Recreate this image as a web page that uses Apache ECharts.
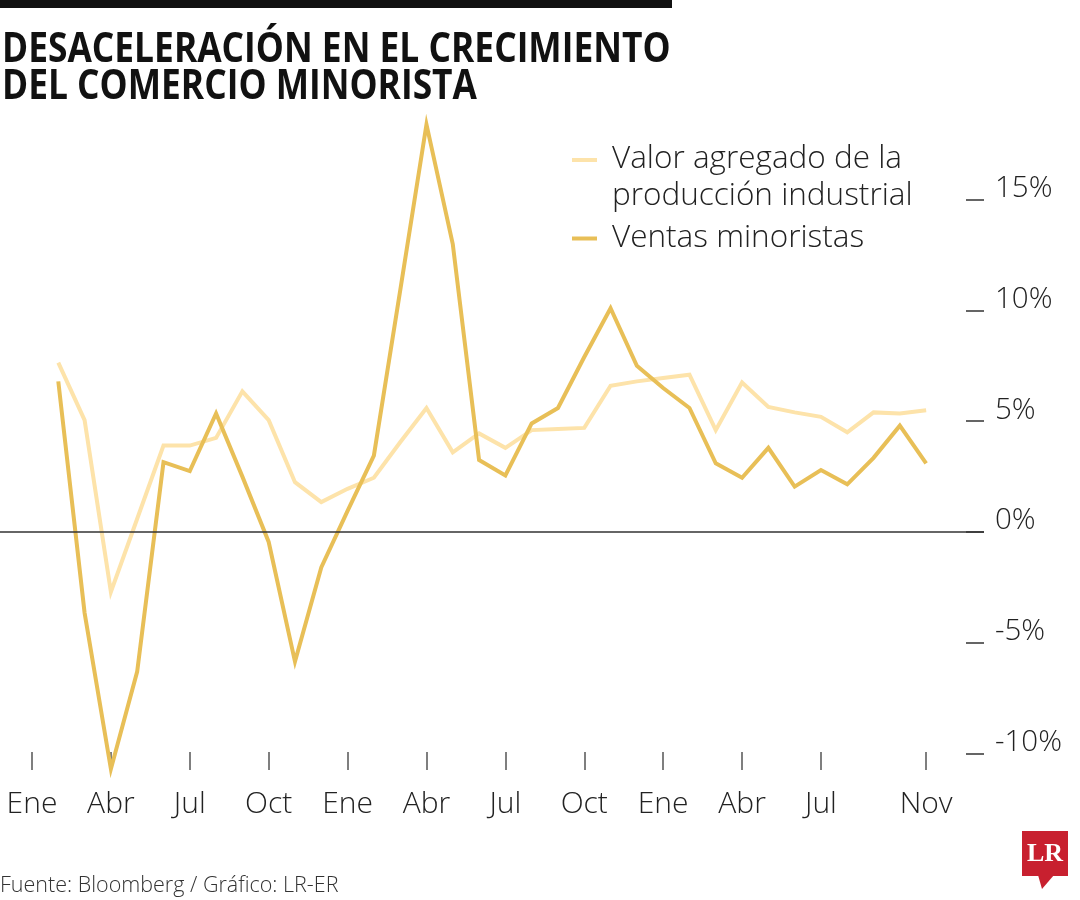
<!DOCTYPE html>
<html>
<head>
<meta charset="utf-8">
<script src="https://cdn.jsdelivr.net/npm/echarts@6/dist/echarts.min.js"></script>
<style>
  html, body { margin: 0; padding: 0; background: #fff; }
  #chart { width: 1080px; height: 900px; }
</style>
</head>
<body>
<div id="chart"></div>
<script>
// Months counted from Jan of year 1 (0) to Nov of year 3 (34); data starts in Feb (1)
const firstMonth = 1;
const tickMonths = [0, 3, 6, 9, 12, 15, 18, 21, 24, 27, 30, 34];
const tickLabels = ['Ene', 'Abr', 'Jul', 'Oct', 'Ene', 'Abr', 'Jul', 'Oct', 'Ene', 'Abr', 'Jul', 'Nov'];
const yTicks = [-10, -5, 0, 5, 10, 15];

const industrial = [7.65, 5.05, -2.7, 0.6, 3.9, 3.9, 4.25, 6.35, 5.05, 2.25, 1.35, 1.95,
  2.45, 4.05, 5.6, 3.6, 4.45, 3.8, 4.6, 4.65, 4.7, 6.6, 6.8, 6.95, 7.1, 4.6, 6.75,
  5.65, 5.4, 5.2, 4.5, 5.4, 5.35, 5.5];
const retail = [6.8, -3.65, -10.7, -6.3, 3.15, 2.75, 5.35, 2.5, -0.45, -5.85, -1.6, 0.95,
  3.45, 10.9, 18.4, 13.0, 3.25, 2.55, 4.9, 5.6, 7.9, 10.1, 7.5, 6.5, 5.6, 3.1, 2.45,
  3.8, 2.05, 2.8, 2.15, 3.35, 4.8, 3.1];

const seriesNames = ['Valor agregado de la\nproducción industrial', 'Ventas minoristas'];
const colors = ['#FDE3AA', '#E8BF57'];

const titleText = 'DESACELERACIÓN EN EL CRECIMIENTO\nDEL COMERCIO MINORISTA';
const sourceText = 'Fuente: Bloomberg / Gráfico: LR-ER';

const labelFont = "'Open Sans', 'Noto Sans', sans-serif";

const chart = echarts.init(document.getElementById('chart'), null, { renderer: 'canvas' });

const toPoints = arr => arr.map((v, i) => [firstMonth + i, v]);

chart.setOption({
  animation: false,
  backgroundColor: '#ffffff',
  title: [
    {
      text: sourceText,
      left: 0, top: 875, padding: 0,
      textStyle: { fontFamily: labelFont, fontWeight: 300, fontSize: 21.5, color: '#333' }
    }
  ],
  legend: [
    {
      data: [{ name: seriesNames[0], icon: 'path://M0,0h25v4h-25z M0,40h25v0.001h-25z' }],
      orient: 'vertical', left: 572, top: 141, padding: 0,
      itemWidth: 25, itemHeight: 40, itemGap: 0,
      textStyle: { fontFamily: labelFont, fontWeight: 300, fontSize: 31.5, lineHeight: 37, color: '#222', padding: [0, 0, 0, 10] }
    },
    {
      data: [{ name: seriesNames[1], icon: 'rect' }],
      orient: 'vertical', left: 572, top: 220, padding: 0,
      itemWidth: 25, itemHeight: 4, itemGap: 0,
      textStyle: { fontFamily: labelFont, fontWeight: 300, fontSize: 31.5, lineHeight: 37, color: '#222', padding: [0, 0, 0, 10] }
    }
  ],
  grid: { left: 0, right: 96, top: 89, bottom: 130, containLabel: false },
  xAxis: {
    type: 'value',
    min: -1.2167, max: 36.2,
    axisLine: { show: false, onZero: false },
    splitLine: { show: false },
    axisTick: {
      show: true, inside: true, length: 18, customValues: tickMonths,
      lineStyle: { color: '#555', width: 1.5 }
    },
    axisLabel: {
      show: true, customValues: tickMonths, margin: 19,
      fontFamily: labelFont, fontWeight: 300, fontSize: 30, lineHeight: 30, color: '#222',
      formatter: v => tickLabels[tickMonths.indexOf(Math.round(v))] || ''
    }
  },
  yAxis: {
    type: 'value', position: 'right',
    min: -10.745, max: 20,
    axisLine: { show: false, onZero: false },
    splitLine: { show: false },
    axisTick: {
      show: true, inside: true, length: 18, customValues: yTicks,
      lineStyle: { color: '#333', width: 1.5 }
    },
    axisLabel: {
      show: true, customValues: yTicks, margin: 11,
      fontFamily: labelFont, fontWeight: 300, fontSize: 29.5, lineHeight: 22, color: '#222',
      verticalAlign: 'bottom',
      formatter: v => Math.round(v) + '%'
    }
  },
  series: [
    {
      name: seriesNames[0], type: 'line', data: toPoints(industrial),
      symbol: 'none', clip: false, z: 2,
      lineStyle: { color: colors[0], width: 4, join: 'miter' },
      itemStyle: { color: colors[0] },
      markLine: {
        silent: true, symbol: 'none', label: { show: false },
        lineStyle: { color: '#333', width: 1.5, type: 'solid' },
        data: [{ yAxis: 0 }]
      }
    },
    {
      name: seriesNames[1], type: 'line', data: toPoints(retail),
      symbol: 'none', clip: false, z: 3,
      lineStyle: { color: colors[1], width: 4, join: 'miter' },
      itemStyle: { color: colors[1] }
    }
  ],
  graphic: [
    { type: 'rect', shape: { x: 0, y: 0, width: 672, height: 8 }, style: { fill: '#111' } },
    {
      type: 'text', x: 2, y: 32, scaleX: 0.862,
      style: {
        text: titleText, fill: '#111',
        font: "bold 41px 'Open Sans', 'Noto Sans', sans-serif",
        lineHeight: 37, verticalAlign: 'top', align: 'left'
      }
    },
    {
      type: 'group', left: 1022, top: 831,
      children: [
        { type: 'rect', shape: { x: 0, y: 0, width: 46, height: 45 }, style: { fill: '#C8202F' } },
        { type: 'polygon', shape: { points: [[16, 44], [32, 44], [20, 58]] }, style: { fill: '#C8202F' } },
        { type: 'text', style: { x: 23, y: 23, text: 'LR', fill: '#fff', font: "bold 26px 'Liberation Serif', 'DejaVu Serif', serif", align: 'center', verticalAlign: 'middle' } }
      ]
    }
  ]
});
</script>
</body>
</html>
